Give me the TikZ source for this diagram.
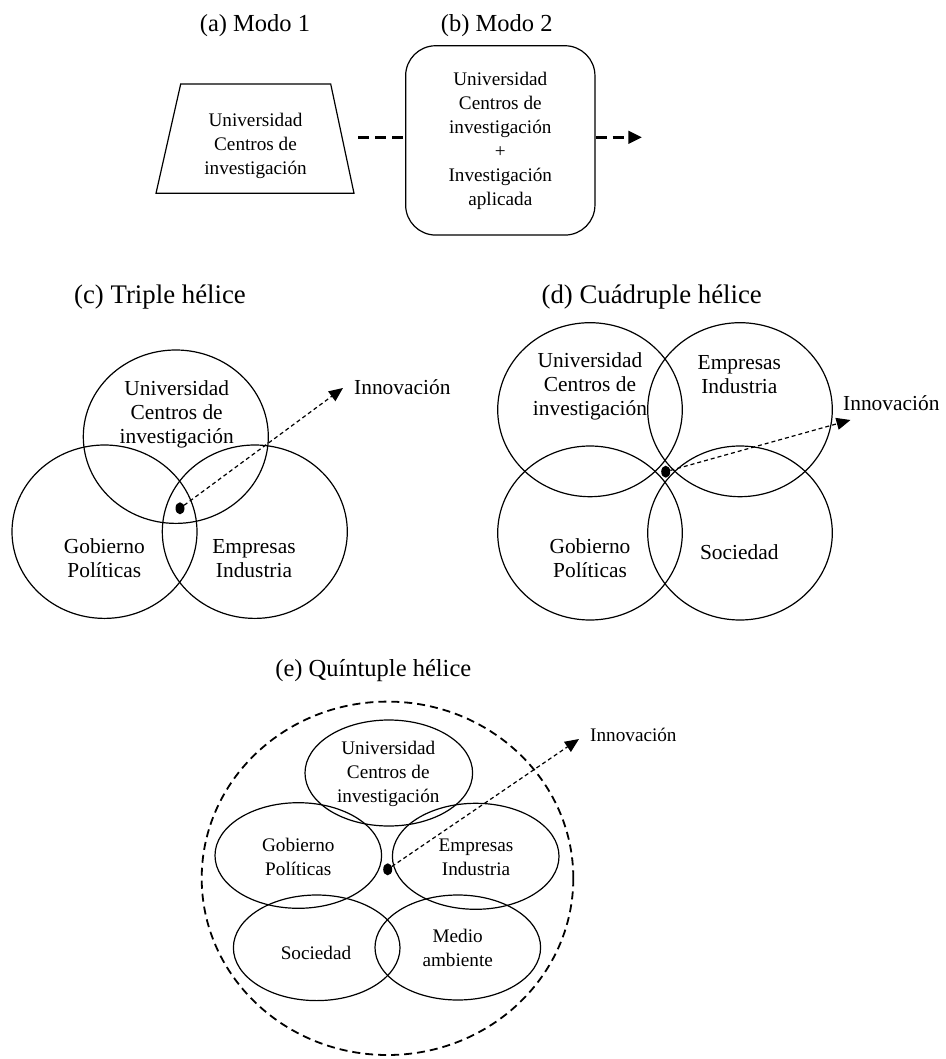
\documentclass[tikz,border=0pt]{standalone}
\usepackage{fontspec}
\setmainfont{Liberation Serif}
\usetikzlibrary{shapes.geometric,arrows.meta}
\begin{document}
\begin{tikzpicture}[x=1pt,y=-1pt,
  ring/.style={draw, ellipse, line width=1.2pt, inner sep=0pt},
  txtA/.style={align=center, inner sep=0pt, font=\fontsize{19.2}{24}\selectfont},
  txtB/.style={align=center, inner sep=0pt, font=\fontsize{21.4}{24}\selectfont},
  ttlA/.style={anchor=base, inner sep=0pt, font=\fontsize{24.5}{28}\selectfont},
  ttlB/.style={anchor=base, inner sep=0pt, font=\fontsize{26.8}{30}\selectfont},
  seed/.style={ellipse, fill=black, minimum width=9pt, minimum height=12pt, inner sep=0pt},
  flow/.style={line width=1.2pt, dash pattern=on 4pt off 3pt, -{Triangle[length=14pt,width=12pt]}},
  bigflow/.style={line width=3pt, dash pattern=on 11pt off 6pt},
]
\useasboundingbox (0,0) rectangle (945,1059);

% ---------- (a) Modo 1 and (b) Modo 2 ----------
\node[ttlA] (ta) at (255,31.7) {(a) Modo 1};
\node[ttlA] (tb) at (496.7,31.7) {(b) Modo 2};

\draw[line width=1.2pt] (180.7,84) -- (330.7,84) -- (354,193.3) -- (156,193.3) -- cycle;
\node[txtA] (m1) at (255.5,146) {Universidad\\Centros de\\investigación};
\coordinate (m1r) at (358,137.3);

\node[draw, line width=1.2pt, rounded corners=30pt, minimum width=189.3pt, minimum height=189.3pt,
      txtA] (m2) at (500.3,140.4) {Universidad\\Centros de\\investigación\\+\\Investigación\\aplicada};

\draw[bigflow] (m1r) -- (m1r -| m2.west);
\coordinate (m2tip) at (641.7,137.3);
\draw[bigflow] (m2tip -| m2.east) -- ([xshift=-13pt]m2tip);
\fill ([xshift=-13.4pt,yshift=6.7pt]m2tip) -- (m2tip) -- ([xshift=-13.4pt,yshift=-6.7pt]m2tip) -- cycle;

% ---------- (c) Triple hélice ----------
\node[ttlB] (tc) at (160,303.3) {(c) Triple hélice};
\node[ring, minimum width=185pt, minimum height=173.4pt] (c1) at (175.8,436.7) {};
\node[ring, minimum width=185pt, minimum height=173.4pt] (c2) at (104.5,531.7) {};
\node[ring, minimum width=185pt, minimum height=173.4pt] (c3) at (254.8,531.7) {};
\node[txtB] (c1t) at (176.7,414.3) {Universidad\\Centros de\\investigación};
\node[txtB] (c2t) at (104.3,558.3) {Gobierno\\Políticas};
\node[txtB] (c3t) at (254,558.3) {Empresas\\Industria};
\node[seed] (cd) at (180,508.3) {};
\coordinate (ctip) at (343,388);
\draw[flow] (cd) -- (ctip);
\node[txtB, anchor=west] (cinn) at (354,386.7) {Innovación};

% ---------- (d) Cuádruple hélice ----------
\node[ttlB] (td) at (651.7,303.3) {(d) Cuádruple hélice};
\node[ring, minimum width=184.6pt, minimum height=174pt] (d1) at (590,409.7) {};
\node[ring, minimum width=184.6pt, minimum height=174pt] (d2) at (740,409.7) {};
\node[ring, minimum width=184.6pt, minimum height=174pt] (d3) at (590,533) {};
\node[ring, minimum width=184.6pt, minimum height=174pt] (d4) at (740,533) {};
\node[txtB] (d1t) at (590,386.5) {Universidad\\Centros de\\investigación};
\node[txtB] (d2t) at (739.3,374.7) {Empresas\\Industria};
\node[txtB] (d3t) at (590,558) {Gobierno\\Políticas};
\node[txtB] (d4t) at (739.3,551.7) {Sociedad};
\node[seed] (dd) at (665.7,471.7) {};
\coordinate (dtip) at (850.5,420);
\draw[flow] (dd) -- (dtip);
\node[txtB, anchor=west] (dinn) at (843,403.3) {Innovación};

% ---------- (e) Quíntuple hélice ----------
\node[ttlA] (te) at (373.3,676.5) {(e) Quíntuple hélice};
\node[draw, ellipse, line width=1.8pt, dash pattern=on 8pt off 5pt, inner sep=0pt,
      minimum width=371.6pt, minimum height=353.4pt] (eo) at (387.5,878.3) {};
\node[ring, minimum width=167.6pt, minimum height=106pt] (e1) at (388.8,773) {};
\node[ring, minimum width=166.6pt, minimum height=105.6pt] (e2) at (298.3,855.5) {};
\node[ring, minimum width=166.6pt, minimum height=106pt] (e3) at (475.7,856.3) {};
\node[ring, minimum width=166.6pt, minimum height=105.6pt] (e4) at (316.7,947.8) {};
\node[ring, minimum width=165.6pt, minimum height=105pt] (e5) at (457.8,947.5) {};
\node[txtA] (e1t) at (388.3,774.4) {Universidad\\Centros de\\investigación};
\node[txtA] (e2t) at (298.3,857.2) {Gobierno\\Políticas};
\node[txtA] (e3t) at (476,857.2) {Empresas\\Industria};
\node[txtA] (e4t) at (316,953.3) {Sociedad};
\node[txtA] (e5t) at (457.7,947.5) {Medio\\ambiente};
\node[seed] (ed) at (387.7,869.3) {};
\coordinate (etip) at (579,739);
\draw[flow] (ed) -- (etip);
\node[txtA, anchor=west] (einn) at (590,735) {Innovación};
\end{tikzpicture}
\end{document}
